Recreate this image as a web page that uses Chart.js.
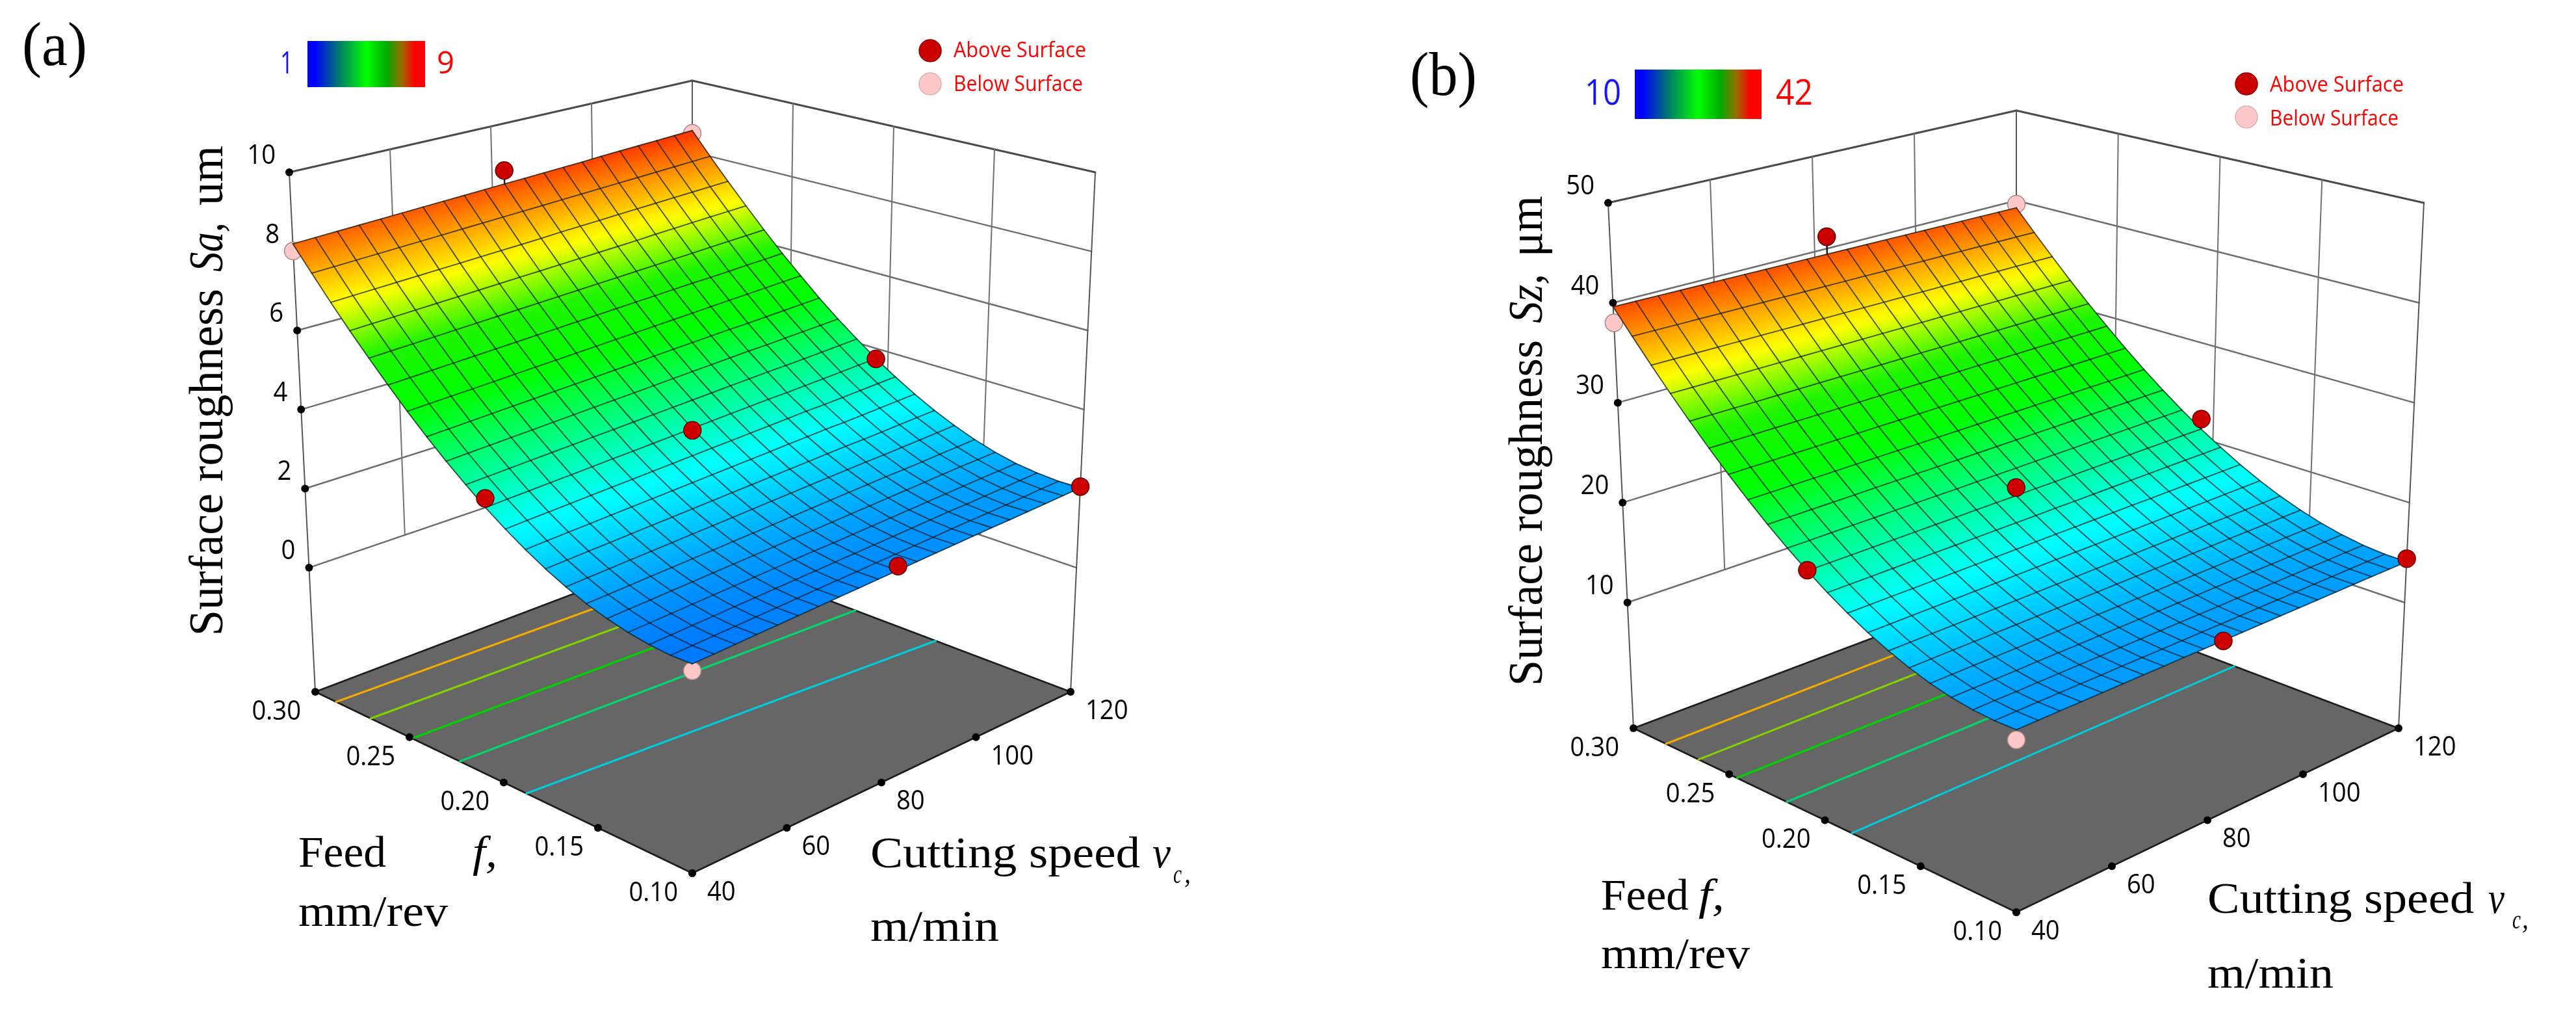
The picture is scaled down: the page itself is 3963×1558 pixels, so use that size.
<!DOCTYPE html>
<html>
<head>
<meta charset="utf-8">
<title>Surface roughness response surfaces</title>
<script src="https://cdn.jsdelivr.net/npm/chart.js@4"></script>
<style>
  html, body { margin: 0; background: #fff; }
  canvas { display: block; }
</style>
</head>
<body>
<canvas id="chart" width="3963" height="1558"></canvas>
<script>
// ---- values ----
const speedGrid = [40,44,48,52,56,60,64,68,72,76,80,84,88,92,96,100,104,108,112,116,120];
const feedGrid  = [0.10,0.11,0.12,0.13,0.14,0.15,0.16,0.17,0.18,0.19,0.20,0.21,0.22,0.23,0.24,0.25,0.26,0.27,0.28,0.29,0.30];

const speedTicks = [40,60,80,100,120];
const feedTicks  = [0.10,0.15,0.20,0.25,0.30];
const saTicks    = [0,2,4,6,8,10];
const szTicks    = [10,20,30,40,50];

// rows = feed, columns = cutting speed
const saSurface = [
  [1.63,1.65,1.67,1.69,1.71,1.73,1.75,1.77,1.79,1.81,1.83,1.85,1.87,1.89,1.91,1.93,1.94,1.96,1.98,2.00,2.02],
  [1.62,1.64,1.66,1.68,1.70,1.72,1.74,1.76,1.78,1.80,1.82,1.84,1.86,1.88,1.90,1.92,1.93,1.95,1.97,1.99,2.01],
  [1.66,1.68,1.70,1.72,1.74,1.76,1.78,1.80,1.82,1.84,1.86,1.88,1.90,1.92,1.94,1.96,1.97,1.99,2.01,2.03,2.05],
  [1.74,1.76,1.78,1.80,1.82,1.84,1.86,1.88,1.90,1.92,1.93,1.95,1.97,1.99,2.01,2.03,2.05,2.07,2.09,2.10,2.12],
  [1.86,1.88,1.90,1.92,1.94,1.96,1.98,2.00,2.02,2.04,2.05,2.07,2.09,2.11,2.13,2.15,2.17,2.19,2.21,2.22,2.24],
  [2.01,2.03,2.05,2.07,2.09,2.11,2.13,2.15,2.17,2.19,2.21,2.23,2.25,2.27,2.29,2.31,2.32,2.34,2.36,2.38,2.40],
  [2.21,2.23,2.25,2.27,2.29,2.31,2.33,2.35,2.37,2.39,2.41,2.43,2.45,2.47,2.49,2.51,2.52,2.54,2.56,2.58,2.60],
  [2.44,2.46,2.48,2.50,2.52,2.54,2.56,2.58,2.60,2.62,2.64,2.66,2.68,2.70,2.72,2.74,2.75,2.77,2.79,2.81,2.83],
  [2.71,2.73,2.75,2.77,2.79,2.81,2.83,2.85,2.87,2.89,2.91,2.93,2.95,2.97,2.99,3.01,3.02,3.04,3.06,3.08,3.10],
  [3.01,3.03,3.05,3.07,3.09,3.11,3.13,3.15,3.17,3.19,3.21,3.23,3.25,3.27,3.29,3.31,3.32,3.34,3.36,3.38,3.40],
  [3.34,3.36,3.38,3.40,3.42,3.44,3.46,3.48,3.50,3.52,3.54,3.56,3.58,3.60,3.62,3.63,3.65,3.67,3.69,3.71,3.73],
  [3.71,3.73,3.75,3.77,3.79,3.81,3.83,3.85,3.87,3.89,3.91,3.93,3.95,3.97,3.99,4.01,4.02,4.04,4.06,4.08,4.10],
  [4.10,4.12,4.14,4.16,4.18,4.20,4.22,4.24,4.26,4.28,4.30,4.32,4.34,4.36,4.38,4.40,4.41,4.43,4.45,4.47,4.49],
  [4.52,4.54,4.56,4.58,4.60,4.62,4.64,4.66,4.68,4.70,4.72,4.74,4.76,4.78,4.80,4.82,4.83,4.85,4.87,4.89,4.91],
  [4.97,4.99,5.01,5.03,5.05,5.07,5.09,5.11,5.13,5.15,5.17,5.19,5.21,5.23,5.25,5.27,5.29,5.31,5.33,5.35,5.37],
  [5.45,5.47,5.49,5.51,5.53,5.55,5.57,5.59,5.61,5.63,5.65,5.67,5.69,5.71,5.73,5.75,5.76,5.78,5.80,5.82,5.84],
  [5.95,5.97,5.99,6.01,6.03,6.05,6.07,6.09,6.11,6.13,6.15,6.17,6.19,6.21,6.23,6.25,6.27,6.29,6.31,6.33,6.35],
  [6.47,6.49,6.51,6.53,6.55,6.57,6.59,6.61,6.63,6.65,6.67,6.69,6.71,6.73,6.75,6.78,6.80,6.82,6.84,6.86,6.88],
  [7.02,7.04,7.06,7.08,7.10,7.12,7.14,7.16,7.18,7.20,7.22,7.25,7.27,7.29,7.31,7.33,7.35,7.37,7.39,7.41,7.43],
  [7.60,7.62,7.64,7.66,7.68,7.70,7.72,7.74,7.76,7.78,7.80,7.82,7.84,7.86,7.88,7.90,7.92,7.94,7.96,7.98,8.00],
  [8.19,8.21,8.23,8.25,8.27,8.29,8.31,8.33,8.35,8.37,8.39,8.41,8.43,8.45,8.47,8.50,8.52,8.54,8.56,8.58,8.60]
];

const szSurface = [
  [13.90,13.91,13.92,13.93,13.94,13.95,13.96,13.97,13.98,13.99,14.00,14.01,14.02,14.03,14.04,14.05,14.06,14.07,14.08,14.09,14.10],
  [13.88,13.89,13.91,13.92,13.93,13.94,13.96,13.97,13.98,13.99,14.01,14.02,14.03,14.04,14.06,14.07,14.08,14.09,14.11,14.12,14.13],
  [14.02,14.04,14.05,14.07,14.08,14.10,14.11,14.13,14.14,14.16,14.17,14.19,14.20,14.22,14.23,14.25,14.26,14.28,14.29,14.31,14.32],
  [14.33,14.35,14.36,14.38,14.40,14.42,14.43,14.45,14.47,14.48,14.50,14.52,14.53,14.55,14.57,14.59,14.60,14.62,14.64,14.65,14.67],
  [14.80,14.82,14.84,14.85,14.87,14.89,14.91,14.93,14.94,14.96,14.98,15.00,15.02,15.03,15.05,15.07,15.09,15.11,15.12,15.14,15.16],
  [15.43,15.45,15.47,15.49,15.50,15.52,15.54,15.56,15.58,15.60,15.62,15.63,15.65,15.67,15.69,15.71,15.73,15.74,15.76,15.78,15.80],
  [16.20,16.22,16.24,16.26,16.27,16.29,16.31,16.33,16.35,16.37,16.39,16.40,16.42,16.44,16.46,16.48,16.50,16.51,16.53,16.55,16.57],
  [17.11,17.13,17.15,17.17,17.18,17.20,17.22,17.24,17.26,17.28,17.30,17.31,17.33,17.35,17.37,17.39,17.41,17.42,17.44,17.46,17.48],
  [18.16,18.18,18.20,18.21,18.23,18.25,18.27,18.28,18.30,18.32,18.34,18.35,18.37,18.39,18.41,18.42,18.44,18.46,18.48,18.49,18.51],
  [19.33,19.35,19.36,19.38,19.40,19.42,19.43,19.45,19.47,19.48,19.50,19.52,19.53,19.55,19.57,19.59,19.60,19.62,19.64,19.65,19.67],
  [20.64,20.66,20.67,20.69,20.70,20.72,20.73,20.75,20.76,20.78,20.79,20.81,20.82,20.84,20.85,20.87,20.88,20.90,20.91,20.93,20.94],
  [22.06,22.07,22.09,22.10,22.11,22.13,22.14,22.15,22.16,22.18,22.19,22.20,22.22,22.23,22.24,22.26,22.27,22.28,22.29,22.31,22.32],
  [23.60,23.61,23.62,23.63,23.64,23.66,23.67,23.68,23.69,23.70,23.71,23.72,23.73,23.74,23.75,23.77,23.78,23.79,23.80,23.81,23.82],
  [25.25,25.26,25.27,25.28,25.28,25.29,25.30,25.31,25.32,25.33,25.34,25.34,25.35,25.36,25.37,25.38,25.39,25.39,25.40,25.41,25.42],
  [27.01,27.02,27.02,27.03,27.03,27.04,27.04,27.05,27.05,27.06,27.06,27.07,27.07,27.08,27.08,27.09,27.09,27.10,27.10,27.11,27.11],
  [28.87,28.87,28.87,28.88,28.88,28.88,28.88,28.88,28.89,28.89,28.89,28.89,28.89,28.90,28.90,28.90,28.90,28.90,28.91,28.91,28.91],
  [30.83,30.83,30.83,30.82,30.82,30.82,30.82,30.82,30.81,30.81,30.81,30.81,30.81,30.80,30.80,30.80,30.80,30.80,30.79,30.79,30.79],
  [32.89,32.88,32.88,32.87,32.87,32.86,32.85,32.85,32.84,32.84,32.83,32.82,32.82,32.81,32.81,32.80,32.79,32.79,32.78,32.78,32.77],
  [35.04,35.03,35.02,35.01,35.00,34.99,34.98,34.97,34.96,34.95,34.94,34.93,34.92,34.91,34.90,34.89,34.88,34.87,34.86,34.85,34.84],
  [37.28,37.27,37.25,37.24,37.22,37.21,37.19,37.18,37.16,37.15,37.13,37.12,37.10,37.09,37.07,37.06,37.04,37.03,37.01,37.00,36.98],
  [39.60,39.58,39.56,39.54,39.52,39.50,39.48,39.46,39.44,39.42,39.40,39.38,39.36,39.34,39.32,39.30,39.28,39.26,39.24,39.22,39.20]
];

// design points: speed, feed, response
const pointSpeed   = [80,40,120,80,120,80];
const pointFeed    = [0.30,0.20,0.20,0.20,0.10,0.10];
const saAbove      = [8.75,3.56,3.72,3.49,2.05,1.93];
const szAbove      = [41.25,20.7,22.0,21.6,14.4,13.97];
const belowSpeed   = [120,40,40];
const belowFeed    = [0.30,0.30,0.10];
const saBelow      = [8.52,8.01,1.47];
const szBelow      = [39.6,38.0,12.98];

// floor contours: feed where each one meets the two speed limits
const saContourAt40  = [0.2876,0.2674,0.2438,0.2174,0.182];
const saContourAt120 = [0.2806,0.2602,0.2358,0.2078,0.1658];
const szContourAt40  = [0.281,0.2624,0.241,0.214,0.18];
const szContourAt120 = [0.282,0.2624,0.24,0.213,0.18];
const contourColors  = ['#f0aa00','#82d200','#00d200','#00d76e','#00cddc'];

// surface colour ramp
const rampAt    = [0, 0.25, 0.5, 0.625, 0.75, 1];
const rampRed   = [0, 0, 0, 30, 255, 255];
const rampGreen = [60, 255, 255, 245, 255, 0];
const rampBlue  = [255, 255, 0, 0, 0, 0];

// colour bar next to the min/max labels
const barStops  = [0, 0.06, 0.28, 0.5, 0.675, 0.8, 0.91, 1];
const barColors = ['#0000ff','#0000ff','#008264','#00ff00','#00aa00','#966e00','#ff0000','#ff0000'];

// ---- box geometry of the two panels ----
const panels = [
  {
    name: '(a)', nameAt: [34, 100, 100],
    floor: { F:[1065,1343], L:[485,1064],  R:[1647,1064], B:[1065,844] },
    top:   { F:[1065,456],  L:[445,265],   R:[1685,265],  B:[1065,124] },
    zFloor: -3.14, zTop: 10, zTicks: saTicks, zColor: [1, 9],
    surface: saSurface, above: saAbove, below: saBelow,
    contour40: saContourAt40, contour120: saContourAt120,
    bar: [473, 63, 181, 71], barMin: ['1', 431, 99, 48, 20], barMax: ['9', 672, 99, 48, 27],
    legendDot: [1431, 78, 129], legendText: [1467, 79, 131, 204, 199],
    titles: [
      ['Surface', 342, 978, 219, 'n'], ['roughness', 342, 741, 297, 'n'],
      ['Sa,', 342, 418, 76, 'i'], ['um', 342, 316, 92, 'n']
    ],
    notes: [
      ['Feed', 459, 1333, 135, 68, 'n'], ['f,', 727, 1333, 38, 68, 'i'], ['mm/rev', 459, 1424, 230, 68, 'n'],
      ['Cutting speed', 1339, 1334, 415, 68, 'n'], ['v', 1773, 1334, 28, 68, 'i'], ['c', 1805, 1358, 13, 40, 'i'],
      [',', 1822, 1358, 10, 44, 'i'], ['m/min', 1339, 1447, 198, 68, 'n']
    ]
  },
  {
    name: '(b)', nameAt: [2169, 146, 103],
    floor: { F:[3102,1403], L:[2513,1120], R:[3690,1120], B:[3102,898] },
    top:   { F:[3102,507],  L:[2474,312],  R:[3729,312],  B:[3102,170] },
    zFloor: -2.57, zTop: 50, zTicks: szTicks, zColor: [10, 42],
    surface: szSurface, above: szAbove, below: szBelow,
    contour40: szContourAt40, contour120: szContourAt120,
    bar: [2515, 107, 195, 76], barMin: ['10', 2438, 146, 54, 56], barMax: ['42', 2732, 146, 54, 57],
    legendDot: [3456, 129, 180], legendText: [3492, 132, 184, 206, 198],
    titles: [
      ['Surface', 2372, 1055, 219, 'n'], ['roughness', 2372, 818, 295, 'n'],
      ['Sz,', 2372, 497, 76, 'i'], ['μm', 2372, 395, 94, 'n']
    ],
    notes: [
      ['Feed', 2463, 1399, 135, 68, 'n'], ['f,', 2613, 1399, 40, 68, 'i'], ['mm/rev', 2463, 1489, 229, 68, 'n'],
      ['Cutting speed', 3396, 1404, 410, 68, 'n'], ['v', 3828, 1404, 25, 68, 'i'], ['c', 3865, 1428, 13, 40, 'i'],
      [',', 3880, 1428, 10, 44, 'i'], ['m/min', 3396, 1519, 194, 68, 'n']
    ]
  }
];

const PERSPECTIVE = 0.13;   // surface and points are foreshortened, the printed ticks are not
const SERIF = '"Liberation Serif"';
const SANS  = '"Open Sans"';

function foreshorten(t) {
  return t * (1 + PERSPECTIVE) / (1 + PERSPECTIVE * t);
}

// (speed, feed, response) -> chart x/y
function project(p, speed, feed, z, warped) {
  let u = (speed - 40) / 80;
  let v = (feed - 0.1) / 0.2;
  if (warped) { u = foreshorten(u); v = foreshorten(v); }
  const w = (z - p.zFloor) / (p.zTop - p.zFloor);
  const out = {};
  ['x', 'y'].forEach((axis, i) => {
    const level = k => p.floor[k][i] * (1 - w) + p.top[k][i] * w;
    out[axis] = level('F') * (1 - u) * (1 - v) + level('L') * (1 - u) * v +
                level('R') * u * (1 - v) + level('B') * u * v;
  });
  return out;
}

function rampColor(t) {
  t = Math.min(1, Math.max(0, t));
  let i = 0;
  while (i < rampAt.length - 2 && t > rampAt[i + 1]) i++;
  const k = (t - rampAt[i]) / (rampAt[i + 1] - rampAt[i]);
  const mix = c => Math.round(c[i] + (c[i + 1] - c[i]) * k);
  return `rgb(${mix(rampRed)},${mix(rampGreen)},${mix(rampBlue)})`;
}

function lineSet(data, color, width) {
  return { data, showLine: true, borderColor: color, borderWidth: width, pointRadius: 0, borderCapStyle: 'round', borderJoinStyle: 'round' };
}

function dotSet(data, fill, edge, radius, edgeWidth) {
  return { data, showLine: false, pointRadius: radius, pointBackgroundColor: fill, pointBorderColor: edge, pointBorderWidth: edgeWidth };
}

function buildPanel(p) {
  const list = [];
  const zMin = p.zTicks[0];
  const zMax = p.zTicks[p.zTicks.length - 1];
  const zLow = p.zTicks === saTicks ? 0 : zMin;
  const wall = (s0, f0, z0, s1, f1, z1, color, width) =>
    list.push(lineSet([project(p, s0, f0, z0), project(p, s1, f1, z1)], color, width));

  // box walls
  p.zTicks.forEach(z => {
    const c = z === zMax ? '#4a4a4a' : '#6e6e6e';
    const lw = z === zMax ? 3 : 2.5;
    wall(40, 0.30, z, 120, 0.30, z, c, lw);
    wall(120, 0.30, z, 120, 0.10, z, c, lw);
  });
  speedTicks.slice(1, -1).forEach(s => wall(s, 0.30, zLow, s, 0.30, zMax, '#707070', 2));
  speedTicks.slice(1, -1).forEach((s, i) => {
    const f = feedTicks[feedTicks.length - 2 - i];
    wall(120, f, zLow, 120, f, zMax, '#707070', 2);
  });
  wall(40, 0.30, p.zFloor, 40, 0.30, zMax, '#555', 2);
  wall(120, 0.10, p.zFloor, 120, 0.10, zMax, '#555', 2);
  wall(120, 0.30, p.zFloor, 120, 0.30, zMax, '#555', 2);

  // grey floor
  const floorSet = lineSet([
    project(p, 40, 0.10, p.zFloor), project(p, 120, 0.10, p.zFloor),
    project(p, 120, 0.30, p.zFloor), project(p, 40, 0.30, p.zFloor), project(p, 40, 0.10, p.zFloor)
  ], '#1c1c1c', 2.5);
  floorSet.polygon = '#666666';
  list.push(floorSet);

  // contours on the floor
  contourColors.forEach((c, i) => {
    list.push(lineSet([
      project(p, 40, p.contour40[i], p.zFloor, true),
      project(p, 120, p.contour120[i], p.zFloor, true)
    ], c, 3.2));
  });

  // tick dots
  const tickDots = [];
  p.zTicks.forEach(z => tickDots.push(project(p, 40, 0.30, z)));
  feedTicks.forEach(f => tickDots.push(project(p, 40, f, p.zFloor)));
  speedTicks.forEach(s => tickDots.push(project(p, s, 0.10, p.zFloor)));
  list.push(dotSet(tickDots, '#000', '#000', 6, 0));

  // points under the surface
  list.push(dotSet(belowSpeed.map((s, i) => project(p, s, belowFeed[i], p.below[i], true)), '#ffc8c8', '#a88', 13.5, 1.5));

  // surface cells, far corner first
  const cells = [];
  for (let r = 0; r < feedGrid.length - 1; r++) {
    for (let c = 0; c < speedGrid.length - 1; c++) cells.push([r, c]);
  }
  cells.sort((a, b) => (b[0] + b[1]) - (a[0] + a[1]));
  cells.forEach(([r, c]) => {
    const node = (rr, cc) => project(p, speedGrid[cc], feedGrid[rr], p.surface[rr][cc], true);
    const ds = { data: [node(r, c), node(r, c + 1), node(r + 1, c + 1), node(r + 1, c)], showLine: false, pointRadius: 0 };
    ds.polygon = 'ramp';
    ds.zFrom = (p.surface[r][c] + p.surface[r][c + 1]) / 2;
    ds.zTo = (p.surface[r + 1][c] + p.surface[r + 1][c + 1]) / 2;
    ds.zColor = p.zColor;
    list.push(ds);
  });

  // mesh lines
  const meshColor = 'rgba(12,28,28,0.72)';
  feedGrid.forEach((f, r) => {
    list.push(lineSet(speedGrid.map((s, c) => project(p, s, f, p.surface[r][c], true)), meshColor, 1.9));
  });
  speedGrid.forEach((s, c) => {
    list.push(lineSet(feedGrid.map((f, r) => project(p, s, f, p.surface[r][c], true)), meshColor, 1.9));
  });

  // drop lines and points over the surface
  pointSpeed.forEach((s, i) => {
    const r = feedGrid.indexOf(pointFeed[i]);
    const c = speedGrid.indexOf(s);
    list.push(lineSet([project(p, s, pointFeed[i], p.above[i], true), project(p, s, pointFeed[i], p.surface[r][c], true)], '#222', 2.5));
  });
  list.push(dotSet(pointSpeed.map((s, i) => project(p, s, pointFeed[i], p.above[i], true)), '#cc0000', '#660000', 13.5, 1.5));
  return list;
}

function putText(ctx, text, x, y, font, color, opts = {}) {
  ctx.save();
  ctx.translate(x, y);
  if (opts.rot) ctx.rotate(opts.rot);
  ctx.font = font;
  ctx.fillStyle = color;
  ctx.textBaseline = opts.base || 'alphabetic';
  ctx.textAlign = 'left';
  const natural = ctx.measureText(text).width;
  const sx = opts.width ? opts.width / natural : (opts.squeeze || 1);
  const w = natural * sx;
  if (opts.align === 'right') ctx.translate(-w, 0);
  ctx.scale(sx, 1);
  ctx.fillText(text, 0, 0);
  ctx.restore();
}

// fills a dataset's closed outline, using the points the scales placed
const polygonFill = {
  id: 'polygonFill',
  beforeDatasetDraw(chart, args) {
    const ds = chart.data.datasets[args.index];
    if (!ds.polygon) return;
    const pts = args.meta.data;
    const ctx = chart.ctx;
    ctx.save();
    ctx.beginPath();
    pts.forEach((pt, i) => (i ? ctx.lineTo(pt.x, pt.y) : ctx.moveTo(pt.x, pt.y)));
    ctx.closePath();
    let paint = ds.polygon;
    if (paint === 'ramp') {
      // gradient runs across the constant-feed edges so neighbours line up
      const mx0 = (pts[0].x + pts[1].x) / 2, my0 = (pts[0].y + pts[1].y) / 2;
      const mx1 = (pts[2].x + pts[3].x) / 2, my1 = (pts[2].y + pts[3].y) / 2;
      const ex = pts[1].x - pts[0].x, ey = pts[1].y - pts[0].y;
      const len = Math.hypot(ex, ey) || 1;
      const nx = -ey / len, ny = ex / len;
      const d = (mx1 - mx0) * nx + (my1 - my0) * ny;
      paint = ctx.createLinearGradient(mx0, my0, mx0 + nx * d, my0 + ny * d);
      const [lo, hi] = ds.zColor;
      for (let k = 0; k <= 4; k++) {
        const z = ds.zFrom + (ds.zTo - ds.zFrom) * k / 4;
        paint.addColorStop(k / 4, rampColor((z - lo) / (hi - lo)));
      }
    }
    ctx.fillStyle = paint;
    ctx.strokeStyle = paint;
    ctx.lineWidth = 1;
    ctx.fill();
    ctx.stroke();
    ctx.restore();
  }
};

const panelText = {
  id: 'panelText',
  afterDatasetsDraw(chart) {
    const ctx = chart.ctx;
    const sx = chart.scales.x, sy = chart.scales.y;
    const at = pt => [sx.getPixelForValue(pt.x), sy.getPixelForValue(pt.y)];
    const tickFont = `42px ${SANS}`;
    panels.forEach(p => {
      putText(ctx, p.name, p.nameAt[0], p.nameAt[1], `95px ${SERIF}`, '#000', { width: p.nameAt[2] });

      // colour bar
      const [bx, by, bw, bh] = p.bar;
      const g = ctx.createLinearGradient(bx, 0, bx + bw, 0);
      barStops.forEach((s, i) => g.addColorStop(s, barColors[i]));
      ctx.fillStyle = g;
      ctx.fillRect(bx, by, bw, bh);
      putText(ctx, p.barMin[0], p.barMin[1], p.barMin[2], `${p.barMin[3]}px ${SANS}`, '#1414ff', { width: p.barMin[4], base: 'middle' });
      putText(ctx, p.barMax[0], p.barMax[1], p.barMax[2], `${p.barMax[3]}px ${SANS}`, '#ff0000', { width: p.barMax[4], base: 'middle' });

      // legend
      const [dx, dy0, dy1] = p.legendDot;
      [[dy0, '#cc0000', '#8a0000'], [dy1, '#ffc8c8', '#d8b0b0']].forEach(([y, fill, edge]) => {
        ctx.beginPath();
        ctx.arc(dx, y, 17, 0, Math.PI * 2);
        ctx.fillStyle = fill;
        ctx.fill();
        ctx.lineWidth = 1.5;
        ctx.strokeStyle = edge;
        ctx.stroke();
      });
      const [tx, ty0, ty1, tw0, tw1] = p.legendText;
      putText(ctx, 'Above Surface', tx, ty0, `32px ${SANS}`, '#ff0000', { width: tw0, base: 'middle' });
      putText(ctx, 'Below Surface', tx, ty1, `32px ${SANS}`, '#ff0000', { width: tw1, base: 'middle' });

      // tick labels
      p.zTicks.forEach(z => {
        const [x, y] = at(project(p, 40, 0.30, z));
        putText(ctx, String(z), x - 21, y - 25, tickFont, '#000', { align: 'right', base: 'middle', squeeze: 0.91 });
      });
      feedTicks.forEach(f => {
        const [x, y] = at(project(p, 40, f, p.zFloor));
        putText(ctx, f.toFixed(2), x - 22, y + 31, tickFont, '#000', { align: 'right', base: 'middle', squeeze: 0.91 });
      });
      speedTicks.forEach(s => {
        const [x, y] = at(project(p, s, 0.10, p.zFloor));
        putText(ctx, String(s), x + 23, y + 30, tickFont, '#000', { base: 'middle', squeeze: 0.91 });
      });

      // axis titles
      p.titles.forEach(([text, x, y, width, style]) => {
        const font = `${style === 'i' ? 'italic ' : ''}74px ${SERIF}`;
        putText(ctx, text, x, y, font, '#000', { rot: -Math.PI / 2, width });
      });
      p.notes.forEach(([text, x, y, width, size, style]) => {
        const font = `${style === 'i' ? 'italic ' : ''}${size}px ${SERIF}`;
        putText(ctx, text, x, y, font, '#000', { width });
      });
    });
  }
};

document.addEventListener('DOMContentLoaded', () => {
  // painted in build order; Chart.js paints the first dataset last
  const datasets = panels.flatMap(buildPanel).reverse();
  new Chart(document.getElementById('chart'), {
    type: 'scatter',
    data: { datasets },
    plugins: [polygonFill, panelText],
    options: {
      responsive: false,
      animation: false,
      devicePixelRatio: 1,
      events: [],
      layout: { padding: 0, autoPadding: false },
      plugins: { legend: { display: false }, tooltip: { enabled: false } },
      scales: {
        x: { type: 'linear', min: 0, max: 3963, display: false },
        y: { type: 'linear', min: 0, max: 1558, reverse: true, display: false }
      }
    }
  });
});
</script>
</body>
</html>
